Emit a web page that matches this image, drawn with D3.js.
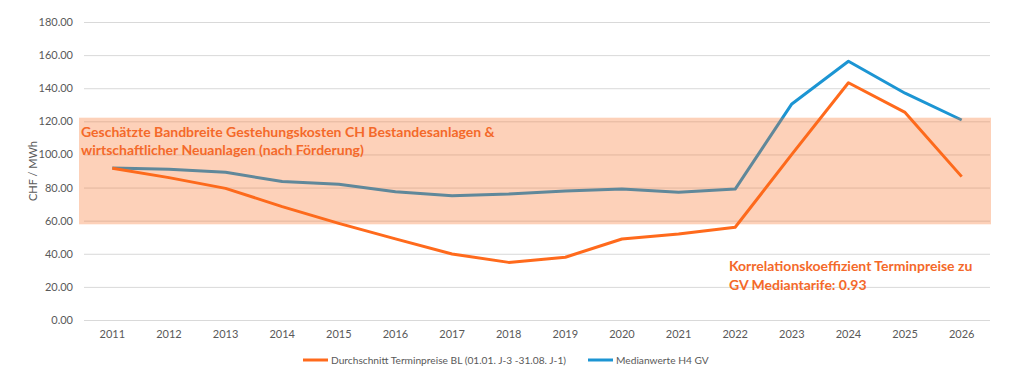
<!DOCTYPE html>
<html>
<head>
<meta charset="utf-8">
<script src="https://cdn.jsdelivr.net/npm/d3@7"></script>
<style>
  body { margin: 0; background: #fff; }
  text { font-family: Lato, 'Open Sans', sans-serif; }
</style>
</head>
<body>
<script>
// Data
const years = ['2011', '2012', '2013', '2014', '2015', '2016', '2017', '2018',
  '2019', '2020', '2021', '2022', '2023', '2024', '2025', '2026'];
const terminpreise = [91.6, 86, 79.5, 68.5, 58.4, 49, 39.9, 34.8,
  37.9, 48.9, 51.9, 56, 100, 143.3, 125.4, 86.6];
const medianwerte = [91.8, 91, 89.2, 83.6, 82, 77.5, 75.1, 76.1,
  77.9, 79.1, 77.1, 79.1, 130.5, 156.3, 137, 120.8];
const band = [57.8, 122.2];
const yTicks = [0, 20, 40, 60, 80, 100, 120, 140, 160, 180];
const seriesNames = ['Durchschnitt Terminpreise BL (01.01. J-3 -31.08. J-1)', 'Medianwerte H4 GV'];
const bandText = ['Geschätzte Bandbreite Gestehungskosten CH Bestandesanlagen &',
  'wirtschaftlicher Neuanlagen (nach Förderung)'];
const corrText = ['Korrelationskoeffizient Terminpreise zu', 'GV Mediantarife: 0.93'];

// SVG dimensions
const fullWidth = 1036;
const fullHeight = 376;
const margin = { top: 22, right: 46, bottom: 56, left: 84 };
const width = fullWidth - margin.left - margin.right;
const height = fullHeight - margin.top - margin.bottom;

const orange = '#ff6a1c';
const blue = '#1c95d3';

const svg = d3.select('body')
  .append('svg')
  .attr('width', fullWidth)
  .attr('height', fullHeight);

const g = svg.append('g')
  .attr('transform', `translate(${margin.left}, ${margin.top})`);

// Scales
const x = d3.scaleBand()
  .domain(years)
  .range([0, width]);

const y = d3.scaleLinear()
  .domain([0, 180])
  .range([height, 0]);

// Gridlines
g.selectAll('.grid')
  .data(yTicks)
  .enter()
  .append('line')
  .attr('x1', 0)
  .attr('x2', width)
  .attr('y1', d => y(d) + 0.5)
  .attr('y2', d => y(d) + 0.5)
  .style('stroke', '#d9d9d9')
  .style('stroke-width', 1);

// Y axis labels
const yAxis = g.append('g')
  .call(d3.axisLeft(y).tickValues(yTicks).tickFormat(d3.format('.2f')).tickSize(0).tickPadding(11));
yAxis.select('.domain').remove();
yAxis.selectAll('text')
  .style('font-size', '11px')
  .style('fill', '#595959');

// X axis labels
const xAxis = g.append('g')
  .attr('transform', `translate(0, ${height})`)
  .call(d3.axisBottom(x).tickSize(0).tickPadding(10));
xAxis.select('.domain').remove();
xAxis.selectAll('text')
  .style('font-size', '11px')
  .style('fill', '#595959');

// Axis title
svg.append('text')
  .attr('transform', `translate(37, ${margin.top + y(90)}) rotate(-90)`)
  .attr('text-anchor', 'middle')
  .style('font-size', '11px')
  .style('fill', '#595959')
  .text('CHF / MWh');

// Lines
const line = d3.line()
  .x((d, i) => x(years[i]) + x.bandwidth() / 2)
  .y(d => y(d));

g.append('path')
  .datum(medianwerte)
  .attr('d', line)
  .style('fill', 'none')
  .style('stroke', blue)
  .style('stroke-width', 3)
  .style('stroke-linejoin', 'round');

g.append('path')
  .datum(terminpreise)
  .attr('d', line)
  .style('fill', 'none')
  .style('stroke', orange)
  .style('stroke-width', 3)
  .style('stroke-linejoin', 'round');

// Band overlay (semi-transparent, drawn above lines)
g.append('rect')
  .attr('x', -5)
  .attr('width', width + 6)
  .attr('y', y(band[1]))
  .attr('height', y(band[0]) - y(band[1]))
  .style('fill', '#f86b1c')
  .style('opacity', 0.31);

// Annotations
const addNote = (lines, xPos, yPos) => {
  g.append('text')
    .attr('x', xPos)
    .attr('y', yPos)
    .style('font-size', '14px')
    .style('font-weight', 'bold')
    .style('fill', '#f4692a')
    .selectAll('tspan')
    .data(lines)
    .enter()
    .append('tspan')
    .attr('x', xPos)
    .attr('dy', (d, i) => i === 0 ? 0 : 18.5)
    .text(d => d);
};

addNote(bandText, -3, y(band[1]) + 19);
addNote(corrText, 645, y(29.5));

// Legend
const legend = svg.append('g')
  .attr('transform', `translate(0, ${fullHeight - 16})`);

const legX = [303, 588];
const legColors = [orange, blue];

legend.selectAll('line')
  .data(seriesNames)
  .enter()
  .append('line')
  .attr('x1', (d, i) => legX[i])
  .attr('x2', (d, i) => legX[i] + 25)
  .attr('y1', 0)
  .attr('y2', 0)
  .style('stroke', (d, i) => legColors[i])
  .style('stroke-width', 3);

legend.selectAll('text')
  .data(seriesNames)
  .enter()
  .append('text')
  .attr('x', (d, i) => legX[i] + 28)
  .attr('y', 4)
  .style('font-size', '10.2px')
  .style('fill', '#595959')
  .text(d => d);
</script>
</body>
</html>
